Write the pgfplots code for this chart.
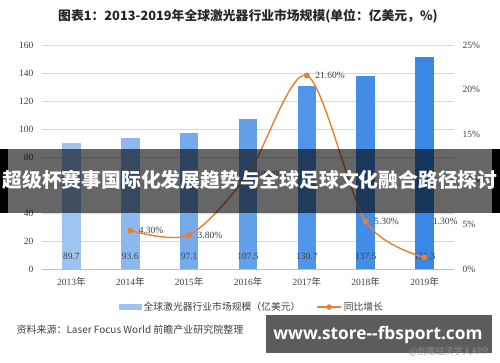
\documentclass[border=0pt]{standalone}
\usepackage{pgfplots}
\pgfplotsset{compat=1.18}
\usepackage{fontspec}
\setmainfont{Liberation Serif}
\newfontfamily\cjk{Noto Sans CJK SC}
\newfontfamily\web{Open Sans}
\definecolor{bA}{HTML}{9DC3F1}
\definecolor{bB}{HTML}{8AB8EF}
\definecolor{bC}{HTML}{75ABEC}
\definecolor{bD}{HTML}{62A0EA}
\definecolor{bE}{HTML}{5195E8}
\definecolor{bF}{HTML}{448DE6}
\definecolor{bG}{HTML}{3A87E5}
\definecolor{org}{HTML}{ED7D31}
\definecolor{txt}{HTML}{404040}
\tikzset{vl/.style={font=\fontsize{9.5}{10}\selectfont, text=txt},
  pl/.style={font=\fontsize{9.5}{10}\selectfont, text=txt, anchor=west, xshift=5pt}}
\begin{document}
\begin{tikzpicture}
\useasboundingbox (0,0) rectangle (500pt,362pt);
\fill[white] (0,0) rectangle (500pt,362pt);
\begin{axis}[at={(42pt,93pt)}, anchor=south west, scale only axis,
  width=412pt, height=224pt,
  xmin=-0.5, xmax=6.5, ymin=0, ymax=160,
  ytick={0,20,...,160}, xtick={0,...,6},
  xticklabels={2013{\cjk 年},2014{\cjk 年},2015{\cjk 年},2016{\cjk 年},2017{\cjk 年},2018{\cjk 年},2019{\cjk 年}},
  axis line style={draw=none}, major tick length=0pt,
  ymajorgrids, grid style={color=black!15, line width=0.7pt},
  ticklabel style={font=\fontsize{9.5}{10}\selectfont, text=txt},
  yticklabel style={xshift=-5pt}, xticklabel style={yshift=-5pt},
  /pgf/number format/assume math mode=true,
  ybar, bar width=18.5pt, bar shift=0pt, clip=false]
\addplot[fill=bA, draw=none] coordinates {(0,89.7)};
\addplot[fill=bB, draw=none] coordinates {(1,93.6)};
\addplot[fill=bC, draw=none] coordinates {(2,97.1)};
\addplot[fill=bD, draw=none] coordinates {(3,107.5)};
\addplot[fill=bE, draw=none] coordinates {(4,130.7)};
\addplot[fill=bF, draw=none] coordinates {(5,137.5)};
\addplot[fill=bG, draw=none] coordinates {(6,151.3)};
\draw[black!25, line width=0.8pt] (axis cs:-0.5,0) -- (axis cs:6.5,0);
\node[vl] at (axis cs:0,9) {89.7};
\node[vl] at (axis cs:1,9) {93.6};
\node[vl] at (axis cs:2,9) {97.1};
\node[vl] at (axis cs:3,9) {107.5};
\node[vl] at (axis cs:4,9) {130.7};
\node[vl] at (axis cs:5,9) {137.5};
\node[vl] at (axis cs:6,9) {151.3};
\end{axis}
\begin{axis}[at={(42pt,93pt)}, anchor=south west, scale only axis,
  width=412pt, height=224pt,
  xmin=-0.5, xmax=6.5, ymin=0, ymax=25,
  ytick={0,5,...,25}, yticklabel={\pgfmathprintnumber{\tick}\%},
  axis y line*=right, axis x line=none, axis line style={draw=none},
  major tick length=0pt,
  ticklabel style={font=\fontsize{9.5}{10}\selectfont, text=txt},
  yticklabel style={xshift=5pt},
  /pgf/number format/assume math mode=true, clip=false,
  legend style={at={(0.51,-0.17)}, anchor=center, draw=none, fill=none,
    legend columns=2, font=\cjk\fontsize{9.8}{11}\selectfont, text=txt,
    /tikz/every even column/.append style={column sep=14pt}}]
\addlegendimage{legend image code/.code={\fill[bA] (0pt,-2.5pt) rectangle (22pt,2.5pt);}}
\addlegendentry{全球激光器行业市场规模（亿美元）}
\addplot[org, line width=1.4pt, smooth, mark=*, mark size=2.2pt, mark options={fill=org, draw=org},
  legend image code/.code={\draw[org, line width=1.4pt] (0pt,0pt) -- (24pt,0pt); \fill[org] (12pt,0pt) circle (2pt);}]
  coordinates {(1,4.3) (2,3.8) (3,10.6) (4,21.6) (5,5.3) (6,1.3)};
\addlegendentry{同比增长}
\node[pl] at (axis cs:1,4.3) {4.30\%};
\node[pl] at (axis cs:2,3.8) {3.80\%};
\node[pl] at (axis cs:3,10.6) {10.60\%};
\node[pl] at (axis cs:4,21.6) {21.60\%};
\node[pl] at (axis cs:5,5.3) {5.30\%};
\node[pl] at (axis cs:6,5.3) {1.30\%};
\end{axis}
\node[font=\cjk\bfseries\fontsize{12.8}{14}\selectfont, text=black!85] at (248pt,346pt)
  {图表1：2013-2019年全球激光器行业市场规模(单位：亿美元，\%)};
\node[font=\cjk\fontsize{10}{11}\selectfont, text=txt, anchor=west] at (13pt,32pt)
  {资料来源：Laser Focus World 前瞻产业研究院整理};
% overlay banner
\fill[black, opacity=0.6] (0,149pt) rectangle (500pt,213pt);
\fill[black] (0,149pt) rectangle (8pt,213pt);
\fill[black] (492pt,149pt) rectangle (500pt,213pt);
\node[font=\cjk\bfseries\fontsize{19.8}{22}\selectfont, text=white] at (250pt,182pt)
  {超级杯赛事国际化发展趋势与全球足球文化融合路径探讨};
\fill[black!66, opacity=0.97] (266pt,9pt) rectangle (492pt,47pt);
\node[font=\web\bfseries\fontsize{17.3}{20}\selectfont, text=white] at (378pt,27pt)
  {www.store--fbsport.com};
\node[font=\cjk\fontsize{9}{10}\selectfont, text=black!45, anchor=east] at (492pt,11pt)
  {@前瞻经济学人APP};
\end{tikzpicture}
\end{document}
